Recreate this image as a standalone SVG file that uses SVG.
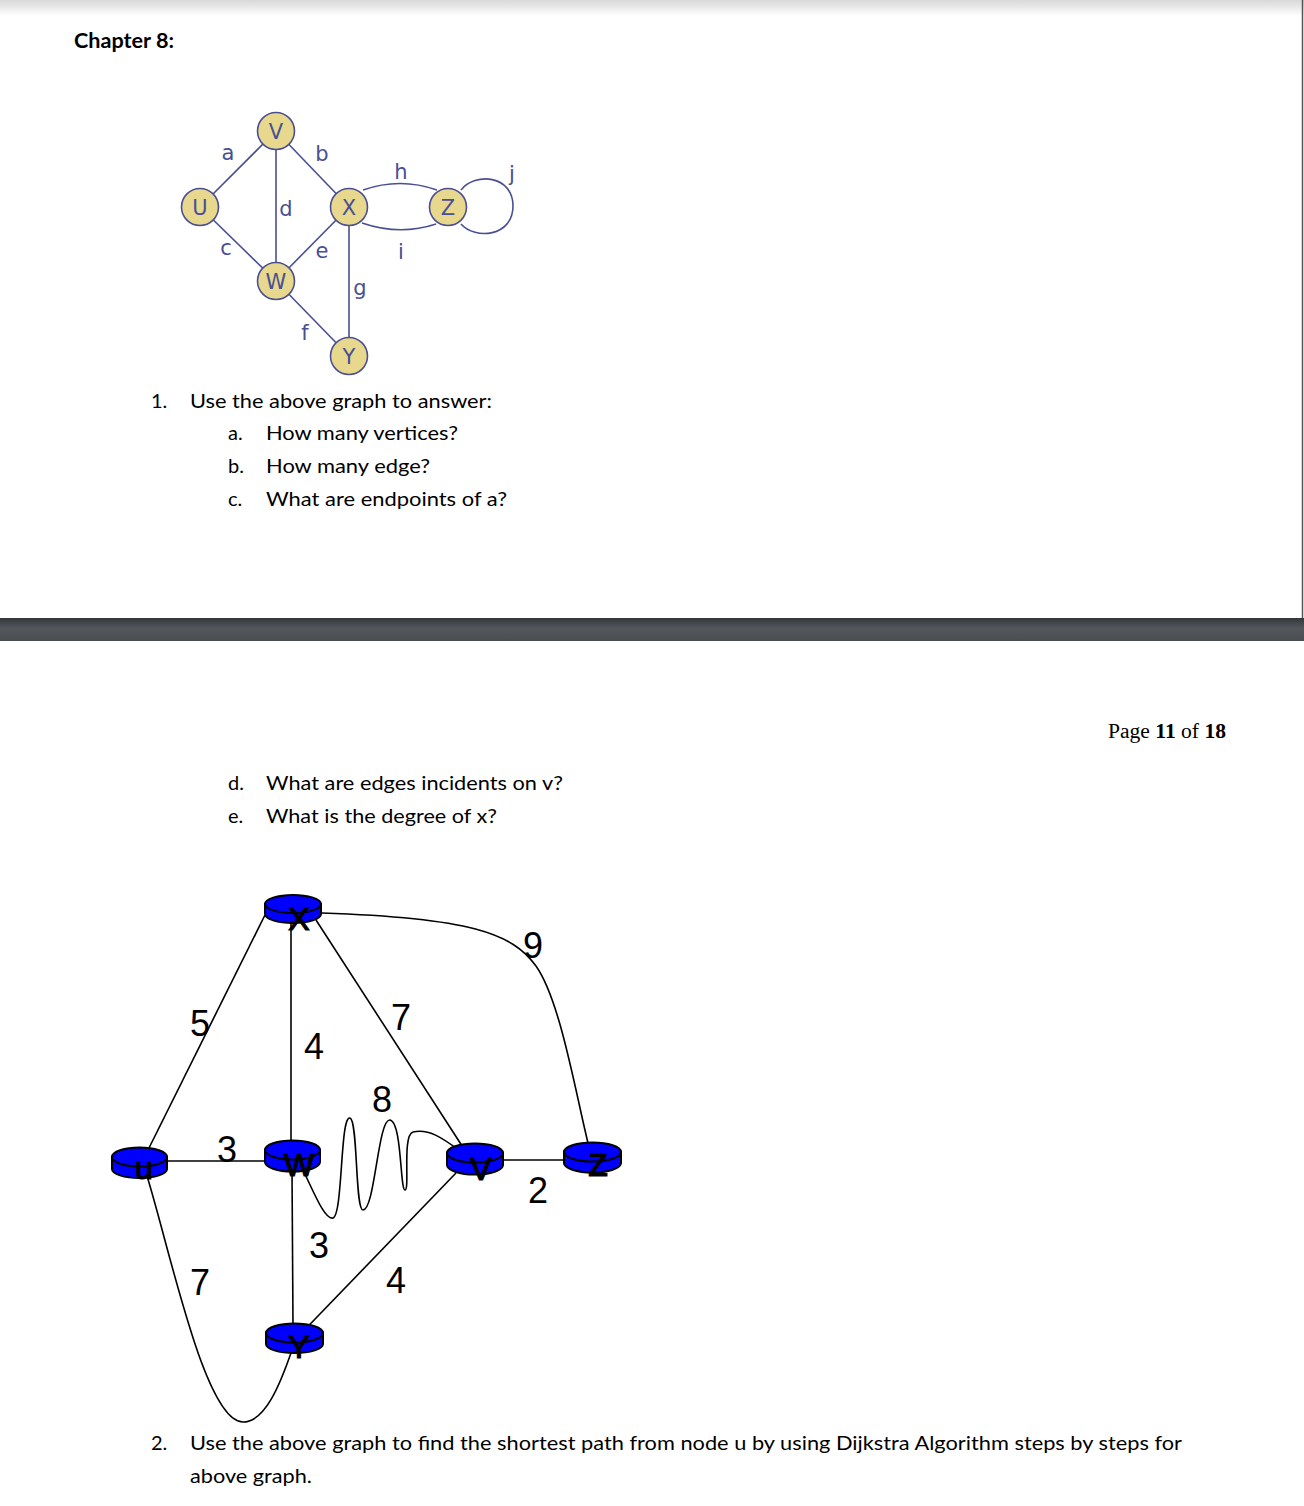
<svg xmlns="http://www.w3.org/2000/svg" width="1304" height="1506" viewBox="0 0 1304 1506">
<defs>
<linearGradient id="topShade" x1="0" y1="0" x2="0" y2="1"><stop offset="0" stop-color="#d8d8d8"/><stop offset="1" stop-color="#ffffff"/></linearGradient>
<linearGradient id="bar" x1="0" y1="0" x2="0" y2="1"><stop offset="0" stop-color="#34373a"/><stop offset="0.45" stop-color="#54585c"/><stop offset="1" stop-color="#4a4d50"/></linearGradient>
<style>
.doc{font-family:Lato,"Open Sans","Liberation Sans",sans-serif;font-size:20px;fill:#000}
.tn{fill:#e8d88e;stroke:#4a4f93;stroke-width:1.6}
.te{stroke:#4a4f93;stroke-width:1.6;fill:none}
.tl{font-family:"DejaVu Sans",Verdana,sans-serif;font-size:21px;fill:#4a4f93;text-anchor:middle}
.be{stroke:#000;stroke-width:1.6;fill:none}
.cyl{fill:#0000ff;stroke:#000;stroke-width:2}
.nl{font-family:"Liberation Sans",Arial,sans-serif;font-size:32px;fill:#000;stroke:#000;stroke-width:1.2;text-anchor:middle}
.el{font-family:"Liberation Sans",Arial,sans-serif;font-size:36px;fill:#000;text-anchor:middle}
</style>
</defs>
<rect x="0" y="0" width="1304" height="1506" fill="#fff"/>
<rect x="0" y="0" width="1304" height="16" fill="url(#topShade)"/>
<line x1="1302.5" y1="0" x2="1302.5" y2="618" stroke="#555" stroke-width="1.5"/>
<rect x="0" y="618" width="1304" height="23" fill="url(#bar)"/>

<text class="doc" x="74" y="48" font-weight="bold" textLength="100" lengthAdjust="spacingAndGlyphs">Chapter 8:</text>

<!-- top graph -->
<g id="top-edges">
<line class="te" x1="200" y1="207" x2="276" y2="131"/>
<line class="te" x1="276" y1="131" x2="349" y2="207"/>
<line class="te" x1="200" y1="207" x2="276" y2="281"/>
<line class="te" x1="276" y1="131" x2="276" y2="281"/>
<line class="te" x1="349" y1="207" x2="276" y2="281"/>
<line class="te" x1="276" y1="281" x2="349" y2="356"/>
<line class="te" x1="349" y1="207" x2="349" y2="356"/>
<path class="te" d="M363,190 Q400,177 437,190"/>
<path class="te" d="M362,223 Q400,236 436,224"/>
<path class="te" d="M461,190 C 475,172 513,175 513,206 C 513,237 475,240 461,224"/>
<text class="tl" x="228" y="160">a</text>
<text class="tl" x="322" y="161">b</text>
<text class="tl" x="401" y="179">h</text>
<text class="tl" x="512" y="181">j</text>
<text class="tl" x="286" y="216">d</text>
<text class="tl" x="226" y="255">c</text>
<text class="tl" x="322" y="258">e</text>
<text class="tl" x="401" y="259">i</text>
<text class="tl" x="360" y="295">g</text>
<text class="tl" x="305" y="340">f</text>
</g>
<g id="tV"><circle class="tn" cx="276" cy="131" r="18.5"/><text class="tl" x="276" y="139">V</text></g>
<g id="tU"><circle class="tn" cx="200" cy="207" r="18.5"/><text class="tl" x="200" y="215">U</text></g>
<g id="tX"><circle class="tn" cx="349" cy="207" r="18.5"/><text class="tl" x="349" y="215">X</text></g>
<g id="tZ"><circle class="tn" cx="448" cy="207" r="18.5"/><text class="tl" x="448" y="215">Z</text></g>
<g id="tW"><circle class="tn" cx="276" cy="281" r="18.5"/><text class="tl" x="276" y="289">W</text></g>
<g id="tY"><circle class="tn" cx="349" cy="356" r="18.5"/><text class="tl" x="349" y="364">Y</text></g>

<text class="doc" x="151" y="408">1.</text>
<text class="doc" x="190" y="408" textLength="302" lengthAdjust="spacingAndGlyphs">Use the above graph to answer:</text>
<text class="doc" x="228" y="440">a.</text>
<text class="doc" x="266" y="440" textLength="192" lengthAdjust="spacingAndGlyphs">How many vertices?</text>
<text class="doc" x="228" y="473">b.</text>
<text class="doc" x="266" y="473" textLength="164" lengthAdjust="spacingAndGlyphs">How many edge?</text>
<text class="doc" x="228" y="506">c.</text>
<text class="doc" x="266" y="506" textLength="241" lengthAdjust="spacingAndGlyphs">What are endpoints of a?</text>

<text x="1108" y="738" font-family="Liberation Serif,'Times New Roman',serif" font-size="20" fill="#000" textLength="118" lengthAdjust="spacingAndGlyphs">Page <tspan font-weight="bold">11</tspan> of <tspan font-weight="bold">18</tspan></text>

<text class="doc" x="228" y="790">d.</text>
<text class="doc" x="266" y="790" textLength="297" lengthAdjust="spacingAndGlyphs">What are edges incidents on v?</text>
<text class="doc" x="228" y="823">e.</text>
<text class="doc" x="266" y="823" textLength="231" lengthAdjust="spacingAndGlyphs">What is the degree of x?</text>

<!-- bottom graph -->
<g id="connectors">
<line class="be" x1="265" y1="915" x2="147" y2="1152"/>
<line class="be" x1="291" y1="922" x2="291" y2="1142"/>
<line class="be" x1="316" y1="920" x2="466" y2="1152"/>
<path class="be" d="M322,913 C 470,918 512,933 536,966 C 560,1000 575,1090 588,1143"/>
<line class="be" x1="166" y1="1161" x2="266" y2="1161"/>
<path class="be" d="M147,1176 C 170,1250 205,1422 243,1422 C 265,1422 280,1385 292,1350"/>
<line class="be" x1="292" y1="1170" x2="293" y2="1325"/>
<path class="be" d="M303,1170 C 315,1195 325,1220 333,1218 C 343,1215 340,1115 350,1118 C 358,1120 355,1210 363,1210 C 375,1210 378,1118 390,1120 C 402,1122 400,1190 405,1190 C 410,1190 402,1135 413,1132 C 430,1128 445,1140 463,1153"/>
<line class="be" x1="456" y1="1173" x2="290" y2="1345"/>
<line class="be" x1="503" y1="1160" x2="565" y2="1160"/>
<text class="el" x="200" y="1036">5</text>
<text class="el" x="314" y="1059">4</text>
<text class="el" x="401" y="1030">7</text>
<text class="el" x="533" y="958">9</text>
<text class="el" x="382" y="1112">8</text>
<text class="el" x="227" y="1162">3</text>
<text class="el" x="538" y="1203">2</text>
<text class="el" x="319" y="1258">3</text>
<text class="el" x="200" y="1295">7</text>
<text class="el" x="396" y="1293">4</text>
</g>

<g id="nX">
<path class="cyl" d="M265,904 L265,914 A28,9 0 0 0 321,914 L321,904 Z"/>
<ellipse class="cyl" cx="293" cy="904" rx="28" ry="9"/>
<text class="nl" x="299" y="930">X</text>
</g>
<g id="nU">
<path class="cyl" d="M112,1157 L112,1169 A27.5,9 0 0 0 167,1169 L167,1157 Z"/>
<ellipse class="cyl" cx="139.5" cy="1157" rx="27.5" ry="9.5"/>
<text class="nl" x="144" y="1179" font-size="40">u</text>
</g>
<g id="nW">
<path class="cyl" d="M265,1150 L265,1162 A27.5,9.5 0 0 0 320,1162 L320,1150 Z"/>
<ellipse class="cyl" cx="292.5" cy="1150" rx="27.5" ry="9.5"/>
<text class="nl" x="299" y="1176">W</text>
</g>
<g id="nV">
<path class="cyl" d="M447,1153 L447,1165 A28,9.5 0 0 0 503,1165 L503,1153 Z"/>
<ellipse class="cyl" cx="475" cy="1153" rx="28" ry="9.5"/>
<text class="nl" x="481" y="1180">V</text>
</g>
<g id="nZ">
<path class="cyl" d="M564,1152 L564,1163 A28.5,9.5 0 0 0 621,1163 L621,1152 Z"/>
<ellipse class="cyl" cx="592.5" cy="1152" rx="28.5" ry="9.5"/>
<text class="nl" x="598" y="1176">Z</text>
</g>
<g id="nY">
<path class="cyl" d="M266,1333 L266,1344 A28.5,9 0 0 0 323,1344 L323,1333 Z"/>
<ellipse class="cyl" cx="294.5" cy="1333" rx="28.5" ry="9.5"/>
<text class="nl" x="299" y="1358">Y</text>
</g>

<text class="doc" x="151" y="1450">2.</text>
<text class="doc" x="190" y="1450" textLength="992" lengthAdjust="spacingAndGlyphs">Use the above graph to find the shortest path from node u by using Dijkstra Algorithm steps by steps for</text>
<text class="doc" x="190" y="1483" textLength="122" lengthAdjust="spacingAndGlyphs">above graph.</text>
</svg>
